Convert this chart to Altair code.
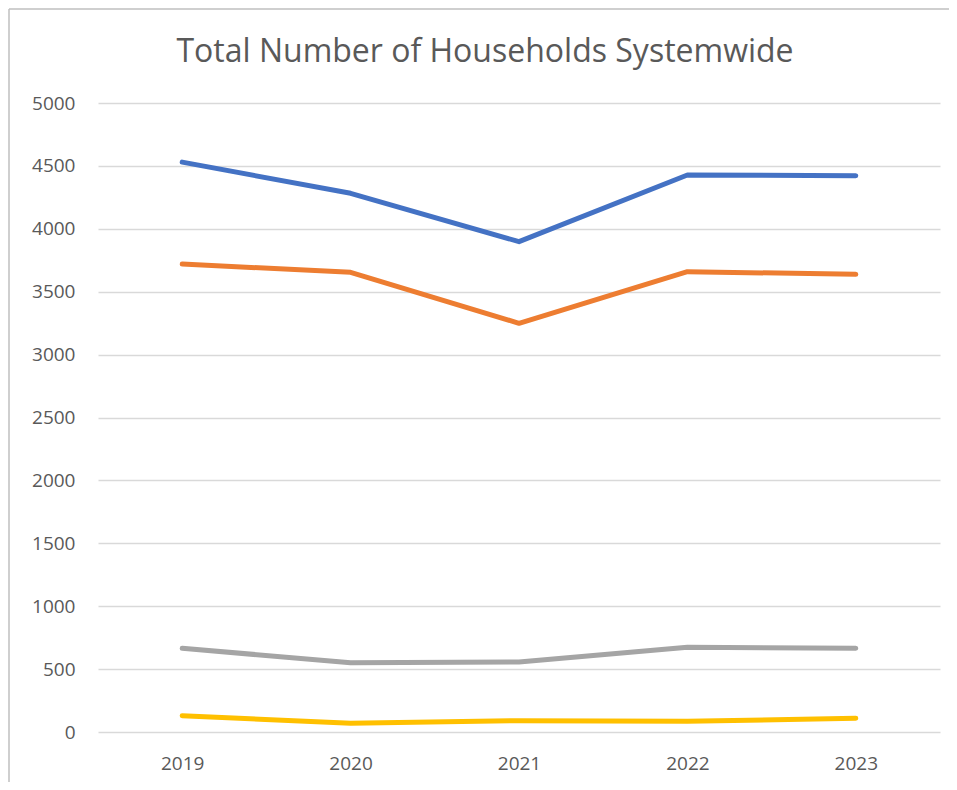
import altair as alt
import pandas as pd

years = ["2019", "2020", "2021", "2022", "2023"]
series_names = ["Series 1", "Series 2", "Series 3", "Series 4"]
series_1 = [4530, 4282, 3898, 4428, 4422]
series_2 = [3720, 3654, 3249, 3659, 3638]
series_3 = [665, 551, 556, 673, 665]
series_4 = [130, 69, 90, 85, 109]
colors = ["#4472C4", "#ED7D31", "#A5A5A5", "#FFC000"]
y_ticks = [0, 500, 1000, 1500, 2000, 2500, 3000, 3500, 4000, 4500, 5000]

rows = []
for name, vals in zip(series_names, [series_1, series_2, series_3, series_4]):
    for yr, v in zip(years, vals):
        rows.append({"Year": yr, "Series": name, "Value": v})
df = pd.DataFrame(rows)

FONT = "Open Sans"
TEXT = "#595959"

lines = alt.Chart(df).mark_line(strokeWidth=5, strokeCap="round", strokeJoin="round").encode(
    x=alt.X("Year:N", sort=years, title=None,
            axis=alt.Axis(labelAngle=0, domain=False, ticks=False, tickSize=0,
                          labelPadding=22, labelFontSize=19, labelColor=TEXT, labelFont=FONT,
                          grid=False)),
    y=alt.Y("Value:Q", title=None, scale=alt.Scale(domain=[0, 5000], nice=False),
            axis=alt.Axis(values=y_ticks, format="d", domain=False, ticks=False, tickSize=0,
                          labelPadding=23, labelFontSize=19, labelColor=TEXT, labelFont=FONT,
                          gridColor="#D9D9D9", gridWidth=1.3)),
    color=alt.Color("Series:N", sort=series_names,
                    scale=alt.Scale(domain=series_names, range=colors), legend=None),
    order=alt.Order("Year:N"),
)

bdf = pd.DataFrame({"b": [0]})
border_top = alt.Chart(bdf).mark_rule(color="#BFBFBF", strokeWidth=1.5).encode(
    x=alt.value(-89), x2=alt.value(851), y=alt.value(-94)
)
border_left = alt.Chart(bdf).mark_rule(color="#BFBFBF", strokeWidth=1.5).encode(
    x=alt.value(-89), y=alt.value(-94), y2=alt.value(760)
)

chart = alt.layer(border_top, border_left, lines).properties(
    width=842, height=629,
    padding={"left": 90, "top": 95, "right": 9, "bottom": 50},
    autosize=alt.AutoSizeParams(type="none"),
    title=alt.Title("Total Number of Households Systemwide", font=FONT, fontSize=32,
                    fontWeight="normal", color=TEXT, anchor="middle", dx=-34, offset=-61),
).configure_view(stroke=None)

chart.save("out.html", embed_options={"renderer": "svg", "actions": False})
